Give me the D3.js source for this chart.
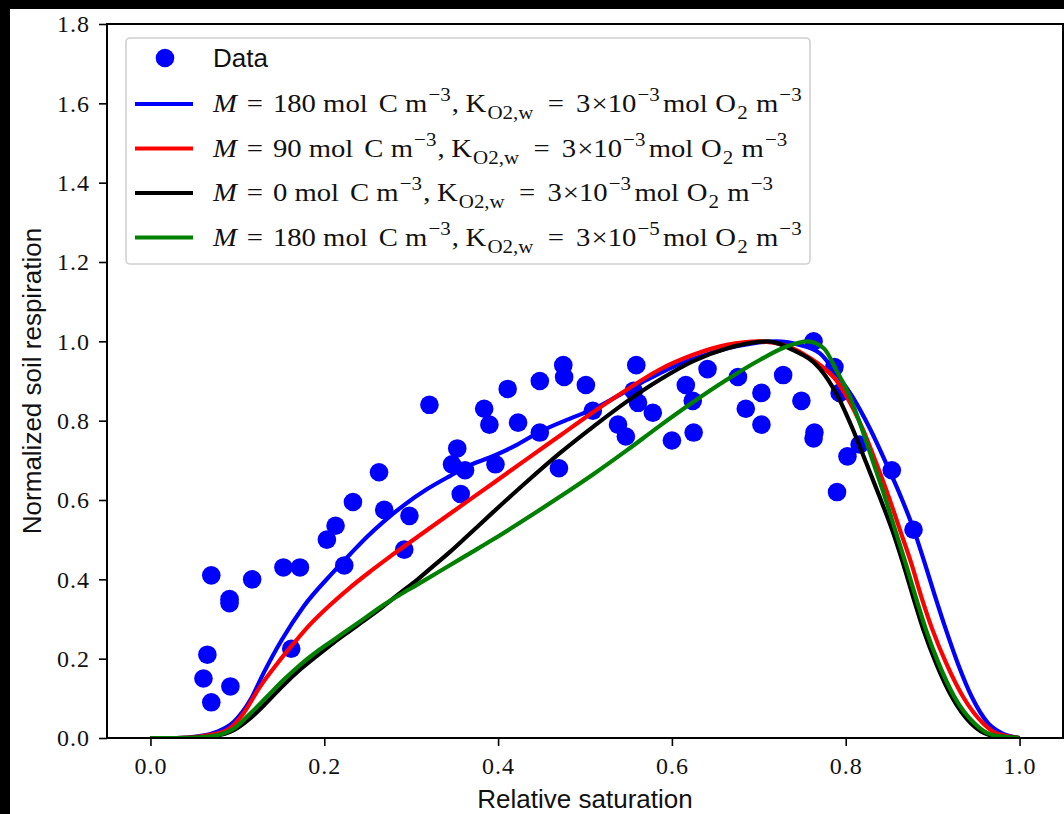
<!DOCTYPE html>
<html>
<head>
<meta charset="utf-8">
<script src="https://cdn.jsdelivr.net/npm/d3@7"></script>
<style>
  html, body { margin: 0; padding: 0; background: #000; }
  svg { display: block; }
</style>
</head>
<body>
<svg id="chart" width="1064" height="814"></svg>
<script>
// Measured respiration vs. relative saturation
const dataSaturation = [0.0655, 0.061, 0.070, 0.070, 0.091, 0.091, 0.092, 0.117, 0.153, 0.162,
  0.172, 0.203, 0.213, 0.223, 0.233, 0.263, 0.269, 0.292, 0.298, 0.321,
  0.347, 0.353, 0.357, 0.362, 0.384, 0.390, 0.397, 0.411, 0.423, 0.448,
  0.448, 0.470, 0.475, 0.476, 0.501, 0.509, 0.538, 0.547, 0.559, 0.556,
  0.561, 0.578, 0.600, 0.616, 0.624, 0.625, 0.641, 0.676, 0.685, 0.703,
  0.703, 0.728, 0.749, 0.763, 0.763, 0.764, 0.787, 0.790, 0.793, 0.802,
  0.816, 0.853, 0.878];
const dataRespiration = [0.21, 0.15, 0.09, 0.41, 0.35, 0.34, 0.13, 0.40, 0.43, 0.225,
  0.43, 0.50, 0.535, 0.435, 0.595, 0.67, 0.575, 0.475, 0.56, 0.84,
  0.69, 0.73, 0.615, 0.675, 0.83, 0.79, 0.69, 0.88, 0.795, 0.90,
  0.77, 0.68, 0.94, 0.91, 0.89, 0.825, 0.79, 0.76, 0.94, 0.875,
  0.845, 0.82, 0.75, 0.89, 0.85, 0.77, 0.93, 0.91, 0.83, 0.79,
  0.87, 0.915, 0.85, 1.00, 0.755, 0.77, 0.935, 0.62, 0.87, 0.71,
  0.74, 0.675, 0.525];

// Model curves
const blueX = [0, 0.03, 0.057, 0.077, 0.096, 0.115, 0.130, 0.151, 0.176, 0.209, 0.230, 0.249, 0.268, 0.291, 0.318, 0.345, 0.368, 0.3946, 0.4215, 0.448, 0.479, 0.5096, 0.540, 0.571, 0.6015, 0.632, 0.663, 0.693, 0.72, 0.745, 0.770, 0.789, 0.8075, 0.8285, 0.8465, 0.8635, 0.8785, 0.891, 0.903, 0.9155, 0.929, 0.945, 0.964, 0.980, 1.0];
const blueY = [0, 0, 0.005, 0.016, 0.041, 0.096, 0.163, 0.247, 0.331, 0.415, 0.464, 0.507, 0.545, 0.586, 0.627, 0.661, 0.688, 0.711, 0.739, 0.772, 0.802, 0.829, 0.865, 0.9025, 0.936, 0.961, 0.982, 0.995, 1.0, 0.992, 0.97, 0.919, 0.861, 0.777, 0.6925, 0.608, 0.524, 0.440, 0.356, 0.272, 0.188, 0.104, 0.037, 0.012, 0];

const redX = [0, 0.03, 0.061, 0.088, 0.107, 0.126, 0.146, 0.165, 0.184, 0.207, 0.230, 0.253, 0.276, 0.299, 0.322, 0.345, 0.3946, 0.433, 0.471, 0.5096, 0.548, 0.586, 0.6245, 0.663, 0.70, 0.73, 0.750, 0.770, 0.789, 0.801, 0.820, 0.8352, 0.8495, 0.8625, 0.8755, 0.887, 0.900, 0.9157, 0.935, 0.958, 0.973, 1.0];
const redY = [0, 0, 0.005, 0.020, 0.062, 0.129, 0.188, 0.239, 0.287, 0.336, 0.380, 0.420, 0.458, 0.494, 0.530, 0.566, 0.643, 0.703, 0.762, 0.822, 0.878, 0.929, 0.966, 0.991, 1.0, 0.99, 0.97, 0.941, 0.902, 0.861, 0.777, 0.6925, 0.608, 0.524, 0.440, 0.356, 0.272, 0.188, 0.104, 0.037, 0.012, 0];

const blackX = [0, 0.03, 0.065, 0.096, 0.115, 0.134, 0.153, 0.172, 0.1916, 0.2107, 0.230, 0.249, 0.268, 0.287, 0.3065, 0.3257, 0.345, 0.364, 0.3946, 0.433, 0.471, 0.5096, 0.548, 0.586, 0.6245, 0.663, 0.71, 0.7395, 0.770, 0.791, 0.8084, 0.8238, 0.839, 0.8535, 0.866, 0.8775, 0.8895, 0.904, 0.922, 0.944, 0.965, 1.0];
const blackY = [0, 0, 0.003, 0.020, 0.050, 0.090, 0.133, 0.172, 0.207, 0.240, 0.271, 0.301, 0.332, 0.365, 0.398, 0.434, 0.470, 0.508, 0.570, 0.646, 0.718, 0.785, 0.848, 0.903, 0.950, 0.982, 1.0, 0.978, 0.932, 0.861, 0.777, 0.6925, 0.608, 0.524, 0.440, 0.356, 0.272, 0.188, 0.104, 0.037, 0.008, 0];

const greenX = [0, 0.03, 0.065, 0.096, 0.115, 0.134, 0.153, 0.172, 0.1916, 0.2107, 0.230, 0.249, 0.268, 0.287, 0.3065, 0.3257, 0.345, 0.364, 0.3946, 0.433, 0.471, 0.5096, 0.548, 0.586, 0.6245, 0.663, 0.701, 0.732, 0.756, 0.775, 0.789, 0.8046, 0.819, 0.832, 0.845, 0.857, 0.869, 0.8805, 0.8925, 0.907, 0.925, 0.948, 0.968, 1.0];
const greenY = [0, 0, 0.003, 0.024, 0.062, 0.104, 0.146, 0.184, 0.218, 0.247, 0.277, 0.306, 0.335, 0.361, 0.386, 0.411, 0.436, 0.461, 0.501, 0.554, 0.608, 0.665, 0.725, 0.787, 0.847, 0.903, 0.953, 0.987, 1.0, 0.982, 0.928, 0.861, 0.777, 0.6925, 0.608, 0.524, 0.440, 0.356, 0.272, 0.188, 0.104, 0.037, 0.008, 0];

const xTicks = [0.0, 0.2, 0.4, 0.6, 0.8, 1.0];
const yTicks = [0.0, 0.2, 0.4, 0.6, 0.8, 1.0, 1.2, 1.4, 1.6, 1.8];

// Legend entries: mass of organic carbon and exponent of the O2 half-saturation constant
const legendM = ["180", "90", "0", "180"];
const legendKExp = ["−3", "−3", "−3", "−5"];
const seriesColors = ["#0000ff", "#ff0000", "#000000", "#008000"];

const series = [
  {x: blueX, y: blueY}, {x: redX, y: redY}, {x: blackX, y: blackY}, {x: greenX, y: greenY}
];

const svg = d3.select("#chart");
const W = 1064, H = 814;
const plot = {left: 107, right: 1063, top: 24, bottom: 738};

svg.append("rect").attr("width", W).attr("height", H).attr("fill", "#000");
svg.append("rect").attr("x", 10).attr("y", 9).attr("width", W - 10).attr("height", H - 9).attr("fill", "#fff");

const x = d3.scaleLinear().domain([-0.05, 1.05]).range([plot.left, plot.right]);
const y = d3.scaleLinear().domain([0, 1.8]).range([plot.bottom, plot.top]);

const serif = "'Liberation Serif', 'Times New Roman', serif";
const sans = "'Liberation Sans', Arial, sans-serif";

// Axes
const xAxis = d3.axisBottom(x).tickValues(xTicks).tickFormat(d3.format(".1f")).tickSizeOuter(0).tickSize(8).tickPadding(8);
const yAxis = d3.axisLeft(y).tickValues(yTicks).tickFormat(d3.format(".1f")).tickSizeOuter(0).tickSize(8).tickPadding(9);

const gx = svg.append("g").attr("transform", `translate(0,${plot.bottom})`).call(xAxis);
const gy = svg.append("g").attr("transform", `translate(${plot.left},0)`).call(yAxis);
[gx, gy].forEach(g => {
  g.select(".domain").remove();
  g.selectAll(".tick line").attr("stroke", "#000").attr("stroke-width", 1.6);
  g.selectAll(".tick text").attr("fill", "#111").style("font-family", serif).style("font-size", "24px").style("letter-spacing", "1px");
});
gx.selectAll(".tick text").attr("dy", "0.85em");

// Clip for plot area
svg.append("clipPath").attr("id", "clip").append("rect")
  .attr("x", plot.left).attr("y", plot.top).attr("width", plot.right - plot.left).attr("height", plot.bottom - plot.top);

// Data points
svg.append("g").attr("clip-path", "url(#clip)")
  .selectAll("circle").data(dataSaturation.map((s, i) => [s, dataRespiration[i]]))
  .join("circle")
  .attr("cx", d => x(d[0])).attr("cy", d => y(d[1])).attr("r", 9.3)
  .attr("fill", "#0000ff");

// Model lines
const line = d3.line().x(d => x(d[0])).y(d => y(d[1])).curve(d3.curveMonotoneX);
svg.append("g").attr("clip-path", "url(#clip)")
  .selectAll("path").data(series)
  .join("path")
  .attr("d", s => line(s.x.map((v, i) => [v, s.y[i]])))
  .attr("fill", "none")
  .attr("stroke", (s, i) => seriesColors[i])
  .attr("stroke-width", 4.2)
  .attr("stroke-linejoin", "round");

// Frame
svg.append("rect").attr("x", plot.left).attr("y", plot.top)
  .attr("width", plot.right - plot.left).attr("height", plot.bottom - plot.top)
  .attr("fill", "none").attr("stroke", "#000").attr("stroke-width", 2);

// Axis titles
svg.append("text").attr("x", (plot.left + plot.right) / 2).attr("y", 808)
  .attr("text-anchor", "middle").style("font-family", sans).style("font-size", "26px").attr("fill", "#111")
  .text("Relative saturation");
svg.append("text").attr("transform", `translate(41,${(plot.top + plot.bottom) / 2}) rotate(-90)`)
  .attr("text-anchor", "middle").style("font-family", sans).style("font-size", "26px").attr("fill", "#111")
  .text("Normalized soil respiration");

// Legend
const lg = svg.append("g");
lg.append("rect").attr("x", 126).attr("y", 38).attr("width", 684).attr("height", 226)
  .attr("rx", 4).attr("fill", "#fff").attr("stroke", "#d0d0d0").attr("stroke-width", 1.6);
lg.append("circle").attr("cx", 165).attr("cy", 58).attr("r", 9.3).attr("fill", "#0000ff");
lg.append("text").attr("x", 213).attr("y", 67).style("font-family", sans).style("font-size", "26px").attr("fill", "#111").text("Data");

const rowY = [104, 148.5, 193, 237.5];
const labelLeft = 213, firstLabelRight = 803;
const labels = [];
legendM.forEach((m, i) => {
  const yy = rowY[i];
  lg.append("line").attr("x1", 135).attr("x2", 193).attr("y1", yy).attr("y2", yy)
    .attr("stroke", seriesColors[i]).attr("stroke-width", 4.2);
  const t = lg.append("text").attr("transform", `translate(${labelLeft},${yy + 8})`)
    .style("font-family", serif).style("font-size", "26px").attr("fill", "#111");
  let pendingDy = 0;
  const span = (s, dx, opts) => {
    const ts = t.append("tspan").attr("dx", dx || 0).attr("dy", pendingDy + ((opts && opts.dy) || 0)).text(s);
    pendingDy = -((opts && opts.dy) || 0);
    if (opts && opts.size) ts.style("font-size", opts.size);
    if (opts && opts.italic) ts.style("font-style", "italic");
    return ts;
  };
  const sup = (s) => span(s, 1, {dy: -11, size: "19px"});
  const sub = (s) => span(s, 1, {dy: 7, size: "19px"});
  span("M", 0, {italic: true});
  span("=", 9);
  span(m, 9);
  span(" mol", 0);
  span("C", 10);
  span(" m", 0);
  sup("−3");
  span(",", 1);
  span("K", 6);
  sub("O2,w");
  span("=", 13);
  span("3", 11);
  span("×10", 1);
  sup(legendKExp[i]);
  span("mol", 3);
  span("O", 7);
  sub("2");
  span(" m", 1);
  sup("−3");
  labels.push({node: t, y: yy + 8});
});
// Stretch the math labels horizontally so the widest one spans the legend
const w0 = labels[0].node.node().getBBox().width;
const sx = (firstLabelRight - labelLeft) / w0;
labels.forEach(l => l.node.attr("transform", `translate(${labelLeft},${l.y}) scale(${sx},1)`));
</script>
</body>
</html>
